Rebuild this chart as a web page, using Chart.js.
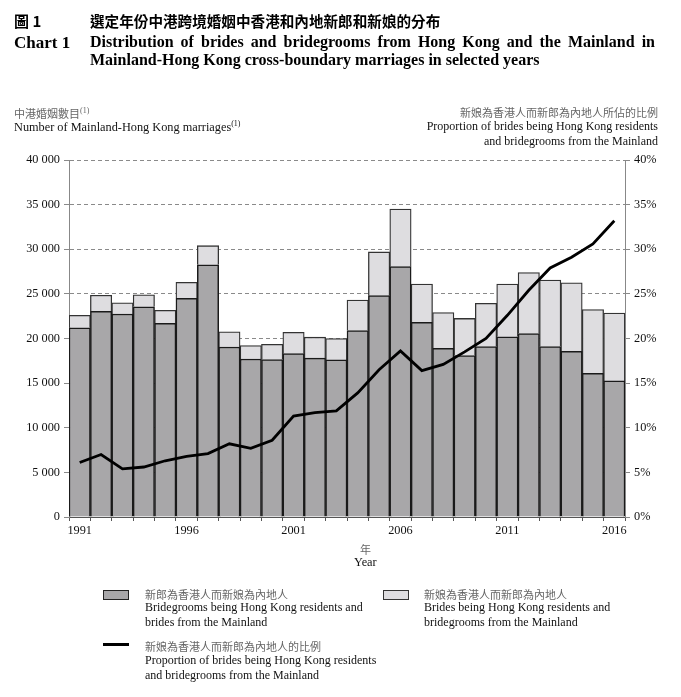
<!DOCTYPE html>
<html>
<head>
<meta charset="utf-8">
<script src="https://cdn.jsdelivr.net/npm/chart.js@4/dist/chart.umd.min.js"></script>
<style>
  html, body { margin: 0; padding: 0; background: #fff; }
  #wrap { position: relative; width: 681px; height: 697px; overflow: hidden; }
  #wrap canvas { position: absolute; left: 0; top: 0; }
  .t { position: absolute; white-space: nowrap; color: #111; font-family: "Liberation Serif", "DejaVu Serif", serif; }
  .zh { font-family: "Noto Sans CJK TC", "Noto Sans CJK SC", sans-serif; }
  .b { font-weight: bold; }
  .grey { color: #666; }
  sup { font-size: 8px; vertical-align: 5px; line-height: 0; }
  .leg { font-size: 12px; line-height: 14.5px; }
  .box { position: absolute; width: 24px; height: 8px; border: 1.5px solid #222; }
</style>
</head>
<body>
<div id="wrap">
  <canvas id="c" width="681" height="697"></canvas>

  <div class="t zh b" style="left:14px; top:10px; font-size:15px; color:#000;">圖 1</div>
  <div class="t zh b" style="left:90px; top:10px; font-size:14.6px; color:#000;">選定年份中港跨境婚姻中香港和內地新郎和新娘的分布</div>
  <div class="t b" style="left:14px; top:33px; font-size:17px; color:#000;">Chart 1</div>
  <div class="t b" style="left:90px; top:33px; width:565px; font-size:16px; color:#000; text-align:justify; text-align-last:justify; white-space:normal;">Distribution of brides and bridegrooms from Hong Kong and the Mainland in</div>
  <div class="t b" style="left:90px; top:51px; font-size:16px; color:#000;">Mainland-Hong Kong cross-boundary marriages in selected years</div>

  <div class="t zh grey" style="left:14px; top:105px; font-size:11px;">中港婚姻數目<sup style="font-family:'Liberation Serif',serif;">(1)</sup></div>
  <div class="t" style="left:14px; top:120px; font-size:12.3px;">Number of Mainland-Hong Kong marriages<sup>(1)</sup></div>

  <div class="t zh grey" style="right:23px; top:104px; font-size:11px; text-align:right;">新娘為香港人而新郎為內地人所佔的比例</div>
  <div class="t" style="right:23px; top:119px; font-size:12px; text-align:right; line-height:14.5px;">Proportion of brides being Hong Kong residents<br>and bridegrooms from the Mainland</div>

  <div class="t zh grey" style="left:360px; top:541px; font-size:11px;">年</div>
  <div class="t" style="left:354px; top:555px; font-size:12.3px;">Year</div>

  <div class="box" style="left:103px; top:590px; background:#a8a7a9;"></div>
  <div class="t zh grey" style="left:145px; top:586px; font-size:11px;">新郎為香港人而新娘為內地人</div>
  <div class="t leg" style="left:145px; top:600px;">Bridegrooms being Hong Kong residents and<br>brides from the Mainland</div>

  <div class="box" style="left:383px; top:590px; background:#dedde0; border-color:#333;"></div>
  <div class="t zh grey" style="left:424px; top:586px; font-size:11px;">新娘為香港人而新郎為內地人</div>
  <div class="t leg" style="left:424px; top:600px;">Brides being Hong Kong residents and<br>bridegrooms from the Mainland</div>

  <div style="position:absolute; left:103px; top:643px; width:26px; height:3px; background:#000;"></div>
  <div class="t zh grey" style="left:145px; top:638px; font-size:11px;">新娘為香港人而新郎為內地人的比例</div>
  <div class="t leg" style="left:145px; top:653px;">Proportion of brides being Hong Kong residents<br>and bridegrooms from the Mainland</div>
</div>

<script>
// ---- Data ----
const years = [1991,1992,1993,1994,1995,1996,1997,1998,1999,2000,2001,2002,2003,2004,2005,2006,2007,2008,2009,2010,2011,2012,2013,2014,2015,2016];

// Bridegrooms being HK residents and brides from the Mainland (dark bars)
const groomsHK = [21200,23050,22750,23550,21700,24500,28250,19050,17700,17650,18300,17800,17600,20900,24800,28050,21800,18900,18100,19100,20200,20550,19100,18550,16100,15250];

// Brides being HK residents and bridegrooms from the Mainland (light bars, stacked)
const bridesHK = [1400,1800,1250,1350,1450,1800,2150,1700,1500,1700,2400,2350,2400,3400,4900,6450,4300,4000,4150,4850,5900,6850,7450,7700,7150,7600];

// Proportion of brides being HK residents (%), right axis
const proportion = [6.1,7.0,5.4,5.6,6.3,6.8,7.1,8.2,7.7,8.6,11.3,11.7,11.9,13.9,16.5,18.6,16.4,17.1,18.5,20.0,22.6,25.4,27.9,29.1,30.6,33.2];

const yLeftTicks = [0,5000,10000,15000,20000,25000,30000,35000,40000];
const yRightTicks = [0,5,10,15,20,25,30,35,40];
const labeledYears = [1991,1996,2001,2006,2011,2016];

const serif = "'Liberation Serif', 'DejaVu Serif', serif";
const fmt = v => String(v).replace(/\B(?=(\d{3})+(?!\d))/g, ' ');

new Chart(document.getElementById('c'), {
  data: {
    labels: years,
    datasets: [
      {
        type: 'line', label: 'proportion', data: proportion, yAxisID: 'y1',
        borderColor: '#000', borderWidth: 2.8, pointRadius: 0, tension: 0, order: 0, fill: false
      },
      {
        type: 'bar', label: 'groomsHK', data: groomsHK, yAxisID: 'y', stack: 's',
        backgroundColor: '#a8a7a9', borderColor: '#1a1a1a', borderWidth: 1.5,
        barPercentage: 1, categoryPercentage: 1, order: 1
      },
      {
        type: 'bar', label: 'bridesHK', data: bridesHK, yAxisID: 'y', stack: 's',
        backgroundColor: '#dedde0', borderColor: '#333', borderWidth: 1.3,
        barPercentage: 1, categoryPercentage: 1, order: 2
      }
    ]
  },
  options: {
    responsive: false,
    animation: false,
    devicePixelRatio: 1,
    layout: { padding: { top: 160, left: 0, right: 0, bottom: 0 } },
    plugins: { legend: { display: false }, tooltip: { enabled: false }, title: { display: false } },
    scales: {
      x: {
        type: 'category', stacked: true,
        grid: { offset: true, drawOnChartArea: false, drawTicks: true, tickLength: 4, color: '#555' },
        border: { display: true, color: '#555', width: 1 },
        ticks: {
          autoSkip: false, maxRotation: 0, minRotation: 0, padding: 2,
          color: '#111', font: { family: serif, size: 12.3 },
          callback: function (v, i) { const yr = years[i]; return labeledYears.includes(yr) ? String(yr) : ''; }
        },
        afterFit: s => { s.height = 180; }
      },
      y: {
        type: 'linear', position: 'left', stacked: true, min: 0, max: 40000,
        afterBuildTicks: s => { s.ticks = yLeftTicks.map(v => ({ value: v })); },
        grid: { color: '#8a8a8a', lineWidth: 1, tickLength: 5, drawTicks: true },
        border: { display: true, color: '#888', width: 1, dash: [4, 3] },
        ticks: { color: '#111', padding: 4, font: { family: serif, size: 12.3 }, callback: v => fmt(v) },
        afterFit: s => { s.width = 69; }
      },
      y1: {
        type: 'linear', position: 'right', min: 0, max: 40,
        afterBuildTicks: s => { s.ticks = yRightTicks.map(v => ({ value: v })); },
        grid: { drawOnChartArea: false, color: '#888', tickLength: 5 },
        border: { display: true, color: '#888', width: 1 },
        ticks: { color: '#111', padding: 4, font: { family: serif, size: 12.3 }, callback: v => v + '%' },
        afterFit: s => { s.width = 56; }
      }
    }
  }
});
</script>
</body>
</html>
